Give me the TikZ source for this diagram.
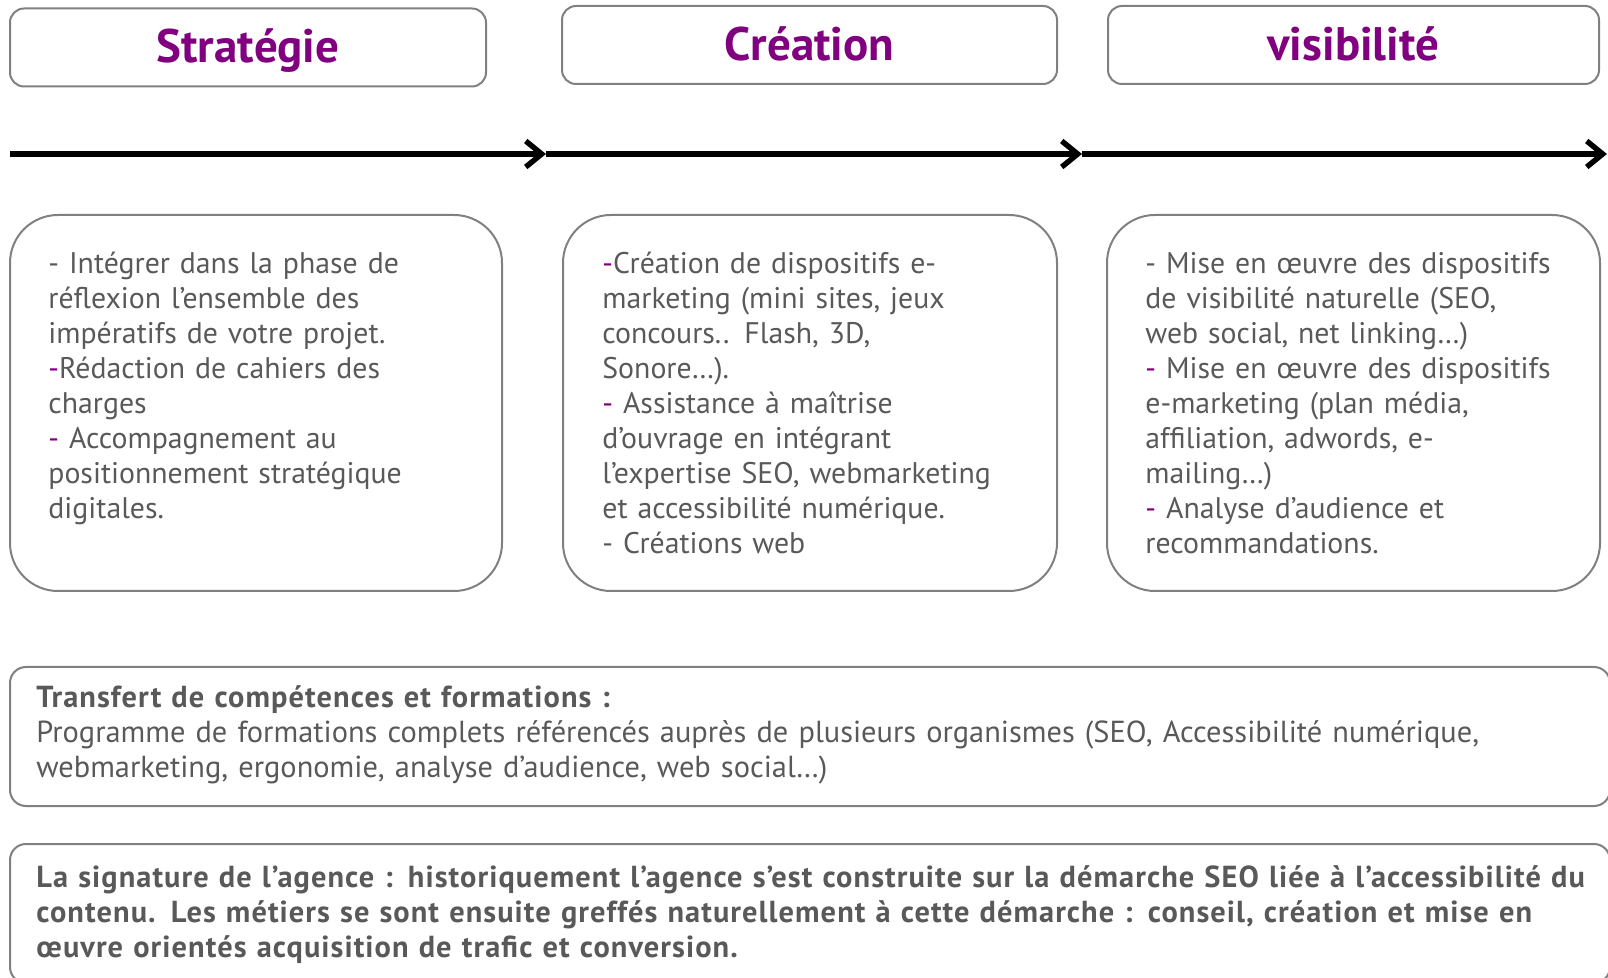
\documentclass[tikz,border=0pt]{standalone}
\usepackage{fontspec}
\setmainfont{PT Sans}
\usetikzlibrary{arrows.meta,positioning}
\definecolor{prune}{HTML}{800080}
\definecolor{texte}{HTML}{595959}
\definecolor{bord}{HTML}{808080}
\tikzset{
  phase/.style={draw=bord,line width=1pt,rounded corners=7pt,minimum height=39pt,text height=17pt,text depth=1.6pt,text=prune,font=\fontsize{23.5}{26}\selectfont\bfseries},
  carte/.style={draw=bord,line width=1pt,rounded corners=24pt},
  bandeau/.style={draw=bord,line width=1pt,rounded corners=8pt},
  corps/.style={anchor=north west,inner sep=0pt,text=texte,align=left,text width=240pt,font=\fontsize{14.9}{17.5}\selectfont},
  large/.style={corps,text width=795pt,font=\fontsize{15.2}{17.5}\selectfont},
  fleche/.style={line width=2.7pt,-{Straight Barb[length=8pt,width=13pt]}}
}
\newcommand{\tiret}{\textcolor{prune}{-}}
\newcommand{\gras}{\bfseries\addfontfeature{LetterSpace=3.5}}

\begin{document}
\begin{tikzpicture}[x=0.5pt,y=-0.5pt]
    \useasboundingbox (0,0) rectangle (1608,978);
    \clip (0,0) rectangle (1608,978);
    \node[phase,minimum width=238pt] (strat) at (248,47.5) {Stratégie};
    \node[phase,minimum width=247.5pt] (crea) at (809.5,45) {Création};
    \node[phase,minimum width=245.5pt] (visi) at (1353.5,45) {visibilité};
    \coordinate (f0) at (10,154);
    \coordinate (f1) at (546,154);
    \coordinate (f2) at (1082,154);
    \coordinate (f3) at (1607,154);
    \draw[fleche] (f0)--(f1);
    \draw[fleche] (f1)--(f2);
    \draw[fleche] (f2)--(f3);
    \node[carte,minimum width=246pt,minimum height=188pt] (c-strat) at (256,403) {};
    \node[carte,minimum width=247pt,minimum height=188pt] (c-crea) at (810,403) {};
    \node[carte,minimum width=246.5pt,minimum height=188pt] (c-visi) at (1353.5,403) {};
    \node[corps] (t-strat) at (48,248.5) {\strut- Intégrer dans la phase de\\
      réflexion l’ensemble des\\ impératifs de votre projet.\\
      \tiret Rédaction de cahiers des\\ charges\\
      \tiret{} Accompagnement au\\ positionnement stratégique\\ digitales.};
    \node[corps] (t-crea) at (602,248.5) {\strut\tiret Création de dispositifs e-\\
      marketing (mini sites, jeux\\ concours.. Flash, 3D,\\ Sonore…).\\
      \tiret{} Assistance à maîtrise\\ d’ouvrage en intégrant\\
      l’expertise SEO, webmarketing\\ et accessibilité numérique.\\
      - Créations web};
    \node[corps] (t-visi) at (1145,248.5) {\strut- Mise en œuvre des dispositifs\\
      de visibilité naturelle (SEO,\\ web social, net linking…)\\
      \tiret{} Mise en œuvre des dispositifs\\ e-marketing (plan média,\\
      affiliation, adwords, e-\\ mailing…)\\
      \tiret{} Analyse d’audience et\\ recommandations.};
    \node[bandeau,minimum width=800pt,minimum height=69.5pt] (formation) at (810,736.5) {};
    \node[bandeau,minimum width=800pt,minimum height=69.5pt] (signature) at (810,913.5) {};
    \node[large] (t-formation) at (36,682.5) {\strut{\gras Transfert de compétences et formations :}\\
      Programme de formations complets référencés auprès de plusieurs organismes (SEO, Accessibilité numérique,\\
      webmarketing, ergonomie, analyse d’audience, web social…)};
    \node[large,font=\fontsize{15.2}{17.5}\selectfont\gras] (t-signature) at (36,862.5) {\strut La signature de l’agence : historiquement l’agence s’est construite sur la démarche SEO liée à l’accessibilité du\\
      contenu. Les métiers se sont ensuite greffés naturellement à cette démarche : conseil, création et mise en\\
      œuvre orientés acquisition de trafic et conversion.};
  \end{tikzpicture}
\end{document}
